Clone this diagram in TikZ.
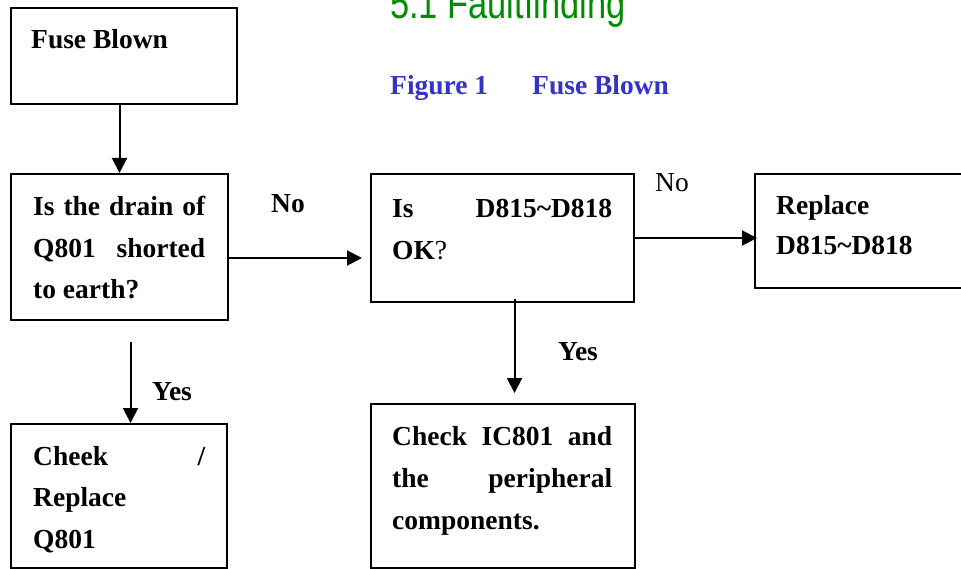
\documentclass[tikz,border=0pt]{standalone}
\usepackage{fontspec}
\setmainfont{Liberation Serif}
\newfontfamily\titlefont[FakeStretch=0.8]{Liberation Sans}
\usetikzlibrary{arrows.meta,positioning,calc}
\definecolor{titleGreen}{RGB}{0,140,0}
\definecolor{capBlue}{RGB}{51,51,204}
\newcommand{\spread}[2]{\makebox[#1][s]{\spaceskip=0pt\xspaceskip=0pt\relax #2}}

\begin{document}
\begin{tikzpicture}[
  x=1pt,y=-1pt,
  box/.style={draw,line width=2pt,inner sep=0pt,anchor=north west},
  txt/.style={font=\fontsize{27.5}{41.5}\selectfont\bfseries,
              align=flush left,inner sep=0pt,anchor=base west},
  lbl/.style={font=\fontsize{27.5}{30}\selectfont\bfseries,
              inner sep=0pt,anchor=base west},
  arr/.style={-{Triangle[length=15pt,width=15pt]},line width=2pt},
]
  \useasboundingbox (0,0) rectangle (961,569);

  \node[anchor=base west,inner sep=0pt,text=titleGreen,
        font=\titlefont\fontsize{43}{43}\selectfont] (title) at (390,19)
    {5.1 Faultfinding};
  \node[lbl,text=capBlue] (caption) at (390,95)
    {Figure 1\hspace{44pt}Fuse Blown};

  \node[box,minimum width=226,minimum height=96] (fuse) at (10,7) {};
  \node[box,minimum width=217,minimum height=146] (drain) at (10,173) {};
  \node[box,minimum width=263,minimum height=128] (d815) at (370,173) {};
  \node[box,minimum width=210,minimum height=114] (replace) at (754,173) {};
  \node[box,minimum width=216,minimum height=144] (cheek) at (10,423) {};
  \node[box,minimum width=264,minimum height=164] (check) at (370,403) {};

  \node[txt] (fuseT) at (31,49) {Fuse Blown};
  \node[txt,text width=172] (drainT) at (33,216)
    {\spread{172pt}{Is the drain of}\\\spread{172pt}{Q801 shorted}\\to earth?};
  \node[txt,text width=220] (d815T) at (392,218)
    {\spread{220pt}{Is D815\textasciitilde D818}\\OK{\mdseries?}};
  \node[txt,text width=170,font=\fontsize{27.5}{40}\selectfont\bfseries] (replaceT) at (776,215)
    {Replace\\D815\textasciitilde D818};
  \node[txt,text width=172] (cheekT) at (33,465)
    {\spread{172pt}{Cheek /}\\Replace\\Q801};
  \node[txt,text width=220,font=\fontsize{27.5}{42}\selectfont\bfseries] (checkT) at (392,445)
    {\spread{220pt}{Check IC801 and}\\\spread{220pt}{the peripheral}\\components.};

  \coordinate (noA) at ($(drain.east)+(0,11)$);
  \coordinate (yesA) at ($(drain.south)+(11,21)$);
  \coordinate (yesB) at ($(d815.south)+(12,-4)$);

  \draw[arr] (fuse.south -| drain.north) -- (drain.north);
  \draw[arr,shorten >=8pt] (noA) -- (noA -| d815.west);
  \draw[arr,shorten >=-3pt] (d815.east) -- (d815.east -| replace.west);
  \draw[arr] (yesA) -- (yesA |- cheek.north);
  \draw[arr,shorten >=10pt] (yesB) -- (yesB |- check.north);

  \node[lbl] (noL) at (271,213) {No};
  \node[lbl,font=\fontsize{27.5}{30}\selectfont] (noR) at (655,192) {No};
  \node[lbl] (yesL) at (152,400) {Yes};
  \node[lbl] (yesR) at (558,360) {Yes};
\end{tikzpicture}
\end{document}
